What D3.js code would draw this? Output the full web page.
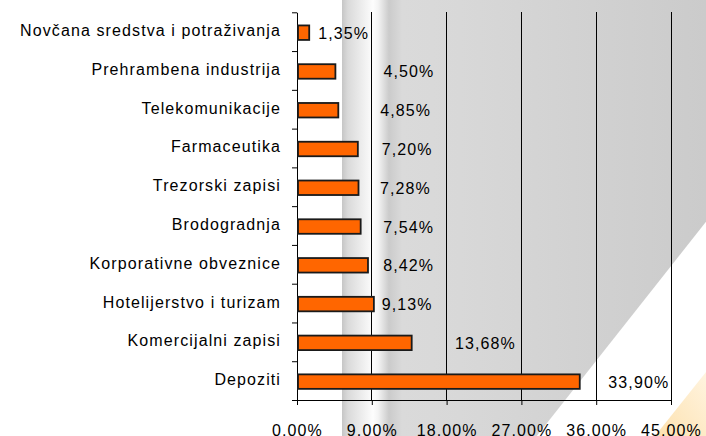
<!DOCTYPE html>
<html><head><meta charset="utf-8">
<script src="https://cdn.jsdelivr.net/npm/d3@7"></script>
<style>
body{margin:0;background:#fff}
svg{display:block}
text{font-family:"Liberation Sans",Arial,Helvetica,sans-serif;font-size:16px;letter-spacing:1.1px;fill:#000}
</style></head>
<body><svg id="c" width="706" height="436"></svg>
<script>
const categories = ["Novčana sredstva i potraživanja","Prehrambena industrija","Telekomunikacije","Farmaceutika","Trezorski zapisi","Brodogradnja","Korporativne obveznice","Hotelijerstvo i turizam","Komercijalni zapisi","Depoziti"];
const values = [1.35,4.50,4.85,7.20,7.28,7.54,8.42,9.13,13.68,33.90];
const tickValues = [0,9,18,27,36,45];
// layout: gap (px) between each bar end and its value label, as placed in the original
const labelGaps = [10,49,43,25,22.5,23.6,16.3,8.8,44.3,29.6];

(function(){
const pL=297, pR=671, pT=12.3, pB=400;
const svg=d3.select("#c");
const fmt=v=>d3.format(".2f")(v).replace(".",",")+"%";

// background
const defs=svg.append("defs");
const g1=defs.append("linearGradient").attr("id","bg").attr("gradientUnits","userSpaceOnUse")
  .attr("x1",342).attr("x2",706).attr("y1",0).attr("y2",0);
[[342,"#c6c6c6"],[348,"#dadada"],[364,"#f0f0f0"],[373,"#fdfdfd"],[378,"#f4f4f4"],[389,"#cbcbcb"],[402,"#dadada"],[460,"#d8d8d8"],[706,"#cbcbcb"]]
  .forEach(([x,c])=>g1.append("stop").attr("offset",(x-342)/364).attr("stop-color",c));
const g2=defs.append("linearGradient").attr("id","peach").attr("x1",0).attr("y1",1).attr("x2",1).attr("y2",0);
g2.append("stop").attr("offset",0).attr("stop-color","#fde1ae");
g2.append("stop").attr("offset",1).attr("stop-color","#fff4e0");
const diag=y=>660-0.79*(y-280);
svg.append("path").attr("d",`M342,0L706,0L706,${280-46/0.79}L${diag(436)},436L342,436Z`).attr("fill","url(#bg)");
svg.append("path").attr("d","M655,436L706,372L706,436Z").attr("fill","url(#peach)");

const x=d3.scaleLinear().domain([0,45]).range([pL,pR]);
const y=d3.scaleBand().domain(categories).range([pT,pB]).paddingInner(0.626).paddingOuter(0.313);
const yt=d3.scaleLinear().domain([0,categories.length]).range([pT,pB]);

// gridlines
svg.append("g").selectAll("line").data(tickValues.slice(1)).join("line")
  .attr("x1",d=>x(d)).attr("x2",d=>x(d)).attr("y1",pT).attr("y2",pB)
  .attr("stroke","#000").attr("stroke-width",1).attr("shape-rendering","crispEdges");

// axes
const ax=svg.append("g").attr("transform",`translate(0,${pB})`)
  .call(d3.axisBottom(x).tickValues(tickValues).tickSize(5).tickSizeOuter(0).tickPadding(20).tickFormat(fmt));
ax.select(".domain").attr("stroke","#000");
ax.selectAll("line").attr("stroke","#000");
ax.selectAll("text").attr("font-size",16).attr("font-family",null).attr("fill","#000");
const ay=svg.append("g").attr("transform",`translate(${pL},0)`)
  .call(d3.axisLeft(yt).tickValues(d3.range(categories.length+1)).tickSize(5).tickSizeOuter(0).tickFormat(""));
ay.select(".domain").attr("stroke","#000");
ay.selectAll("line").attr("stroke","#000");

// category labels
svg.append("g").selectAll("text").data(categories).join("text")
  .attr("x",281).attr("y",d=>y(d)+y.bandwidth()/2+4.5).attr("text-anchor","end").text(d=>d);

// bars
svg.append("g").selectAll("rect").data(values).join("rect")
  .attr("x",x(0)+1).attr("y",(d,i)=>y(categories[i])+1)
  .attr("width",d=>x(d)-x(0)).attr("height",y.bandwidth())
  .attr("fill","#ff6600").attr("stroke","#1a1a1a").attr("stroke-width",1.8);

// value labels
svg.append("g").selectAll("text").data(values).join("text")
  .attr("x",(d,i)=>x(d)+labelGaps[i]).attr("y",(d,i)=>y(categories[i])+y.bandwidth()/2+7)
  .text(d=>fmt(d));
})();
</script></body></html>
